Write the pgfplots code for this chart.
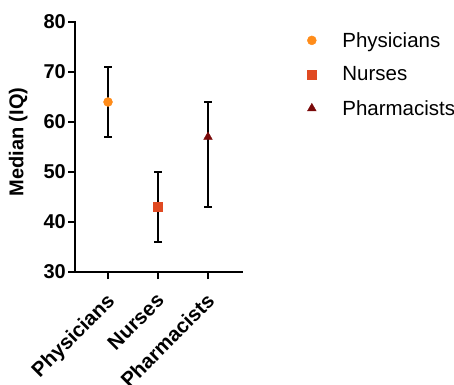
\documentclass[border=0pt]{standalone}
\usepackage{fontspec}
\setmainfont{Liberation Sans}
\usepackage{pgfplots}
\pgfplotsset{compat=1.18}
\definecolor{cPhys}{HTML}{FF8C1A}
\definecolor{cNurs}{HTML}{E04A22}
\definecolor{cPharm}{HTML}{7A0A0A}
\begin{document}
\begin{tikzpicture}[x=1pt,y=1pt]
\path[use as bounding box] (0,0) rectangle (454,384);
\begin{axis}[
  at={(75pt,112pt)}, anchor=south west,
  scale only axis, width=167pt, height=250pt,
  xmin=-0.66, xmax=2.68, ymin=30, ymax=80,
  axis lines*=left,
  axis line style={line width=2.2pt, line cap=rect},
  ytick={30,40,50,60,70,80},
  xtick={0,1,2},
  xticklabels={Physicians,Nurses,Pharmacists},
  tick align=outside,
  major tick length=7pt,
  tick style={line width=2.2pt, black},
  /pgf/number format/assume math mode=true,
  yticklabel style={font=\fontsize{20}{24}\selectfont\bfseries, inner sep=2pt},
  xticklabel shift=7pt,
  xticklabel style={font=\fontsize{20.5}{24}\selectfont\bfseries, rotate=45, anchor=north east, inner sep=2pt, xshift=-4pt},
  ylabel={Median (IQ)},
  ylabel style={font=\fontsize{20}{24}\selectfont\bfseries, at={(axis description cs:-0.34,0.52)}, anchor=center},
  legend style={at={(1.39,0.968)}, anchor=north west, draw=none, fill=none,
    font=\fontsize{20.5}{24}\selectfont, row sep=14pt, inner sep=0pt,
    /tikz/every odd column/.append style={column sep=24pt}},
  legend cell align=left,
  error bars/y dir=both, error bars/y explicit,
  error bars/error bar style={line width=2pt, black},
  error bars/error mark options={rotate=90, mark size=4pt, line width=2pt, black},
]
\addplot[only marks, mark=*, mark size=4.5pt, color=cPhys]
  coordinates {(0,64) += (0,7) -= (0,7)};
\addlegendentry{Physicians}
\addplot[only marks, mark=square*, mark size=4.5pt, color=cNurs]
  coordinates {(1,43) += (0,7) -= (0,7)};
\addlegendentry{Nurses}
\addplot[only marks, mark=triangle*, mark size=5pt, color=cPharm]
  coordinates {(2,57) += (0,7) -= (0,14)};
\addlegendentry{Pharmacists}
\end{axis}
\end{tikzpicture}
\end{document}
